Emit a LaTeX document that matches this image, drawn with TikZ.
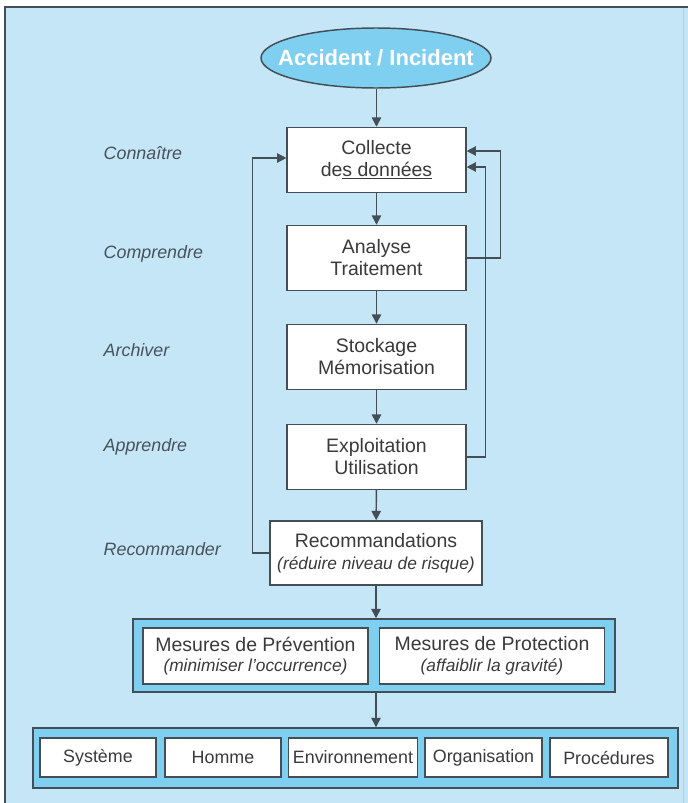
\documentclass[tikz,border=0pt]{standalone}
\usepackage{fontspec}
\setmainfont{Liberation Sans}
\usepackage{tikz}
\usetikzlibrary{shapes.geometric}
\usetikzlibrary{arrows.meta}

\definecolor{fondbleu}{RGB}{197,230,246}
\definecolor{bleuvif}{RGB}{126,207,240}
\definecolor{gristrait}{RGB}{68,78,86}
\definecolor{gristexte}{RGB}{58,58,58}
\definecolor{grislabel}{RGB}{72,82,92}

\tikzset{
    etape/.style={draw=gristrait, line width=1.1pt, fill=white, text=gristexte,
        minimum width=134pt, minimum height=48.75pt, align=center,
        font=\fontsize{14.6}{16.5}\selectfont},
    groupe/.style={draw=gristrait, line width=1.1pt, fill=bleuvif},
    mesure/.style={draw=gristrait, line width=1.1pt, fill=white, text=gristexte,
        minimum width=168.75pt, minimum height=42pt, align=center,
        font=\fontsize{14.6}{15.5}\selectfont},
    domaine/.style={draw=gristrait, line width=1.1pt, fill=white, text=gristexte,
        minimum height=29.25pt, font=\fontsize{13.4}{15}\selectfont},
    verbe/.style={anchor=west, text=grislabel, font=\fontsize{13.4}{15}\selectfont\itshape},
    fleche/.style={draw=gristrait, line width=1.1pt, -{Triangle[length=7pt, width=7pt]}}
}
\newcommand{\petitit}{\fontsize{13}{15}\selectfont\itshape}

\begin{document}
\begin{tikzpicture}[x=0.75pt, y=-0.75pt]
        \useasboundingbox (0,0) rectangle (688,803);

        % Fond
        \fill[fondbleu] (5,7) rectangle (688,803);
        \draw[gristrait, line width=1.2pt] (5,803) -- (5,7) -- (688,7);
        \draw[gristrait!30, line width=0.5pt] (683,8) -- (683,803);

        % Nodes
        \node[ellipse, draw=gristrait, line width=1.1pt, fill=bleuvif, text=white,
              inner xsep=-30pt, inner ysep=0pt,
              minimum width=172.5pt, minimum height=45pt,
              font=\fontsize{16.5}{18}\selectfont\bfseries] (accident) at (376,58) {Accident / Incident};

        \node[etape] (collecte) at (376.5,160) {Collecte\\de\underline{s données}};
        \node[etape] (analyse) at (376.5,258) {Analyse\\Traitement};
        \node[etape] (stockage) at (376.5,357) {Stockage\\Mémorisation};
        \node[etape] (exploitation) at (376.5,457) {Exploitation\\Utilisation};
        \node[etape, minimum width=159pt, minimum height=48pt] (recom) at (376,553)
              {Recommandations\\{\petitit (réduire niveau de risque)}};

        \node[verbe] (connaitre) at (99,153) {Connaître};
        \node[verbe] (comprendre) at (99,254) {Comprendre};
        \node[verbe] (archiver) at (99,350) {Archiver};
        \node[verbe] (apprendre) at (99,447) {Apprendre};
        \node[verbe] (recommander) at (99,549) {Recommander};

        \node[groupe, minimum width=361.5pt, minimum height=54.75pt] (mesures) at (374,655.5) {};
        \node[mesure] (prevention) at (255.5,656) {Mesures de Prévention\\{\petitit (minimiser l’occurrence)}};
        \node[mesure] (protection) at (492,656) {Mesures de Protection\\{\petitit (affaiblir la gravité)}};

        \node[groupe, minimum width=483.75pt, minimum height=45pt] (domaines) at (355.5,758) {};
        \node[domaine, minimum width=87pt] (systeme) at (98,757.5) {Système};
        \node[domaine, minimum width=87pt] (homme) at (223,757.5) {Homme};
        \node[domaine, minimum width=94.5pt] (environnement) at (353,757.5) {Environnement};
        \node[domaine, minimum width=87.75pt] (organisation) at (483.5,757.5) {Organisation};
        \node[domaine, minimum width=88.5pt] (procedures) at (609,757.5) {Procédures};

        % Lines
        \draw[fleche] (collecte.north |- accident.south) -- (collecte.north);
        \draw[fleche] (collecte) -- (analyse);
        \draw[fleche] (analyse) -- (stockage);
        \draw[fleche] (stockage) -- (exploitation);
        \draw[fleche] (exploitation) -- (recom);
        \draw[fleche] (recom.south) -- (recom.south |- mesures.north);
        \draw[fleche] (recom.south |- mesures.south) -- (recom.south |- domaines.north);

        \draw[fleche] (analyse.east) -- ++(34,0) |- ([yshift=6.75pt]collecte.east);
        \draw[fleche] (exploitation.east) -- ++(19,0) |- ([yshift=-5.25pt]collecte.east);
        \draw[fleche] (recom.west) -- ++(-17,0) |- ([yshift=1.5pt]collecte.west);
    \end{tikzpicture}
\end{document}
